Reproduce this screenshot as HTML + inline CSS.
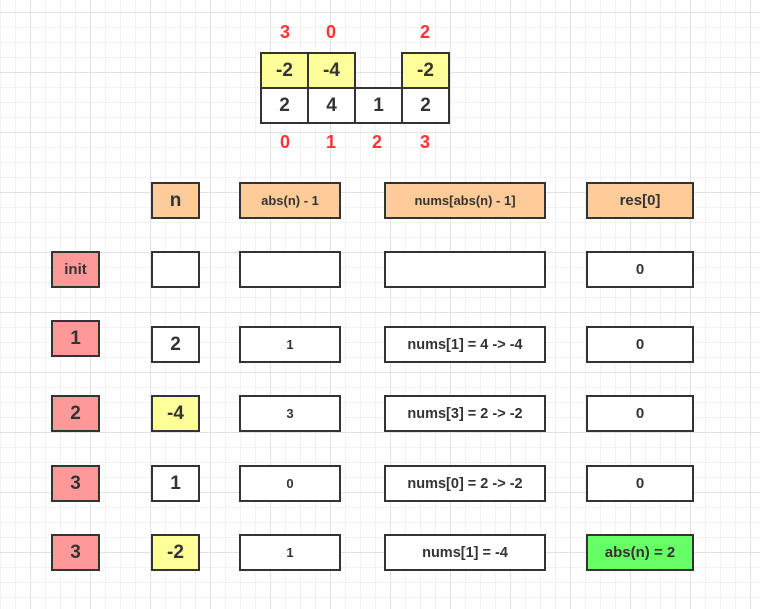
<!DOCTYPE html>
<html><head><meta charset="utf-8"><style>
body{margin:0;width:760px;height:609px;position:relative;overflow:hidden;background:#fff;
background-image:linear-gradient(#e2e2e2 1px,transparent 1px),linear-gradient(90deg,#e2e2e2 1px,transparent 1px),linear-gradient(#f2f2f2 1px,transparent 1px),linear-gradient(90deg,#f2f2f2 1px,transparent 1px);
background-size:60px 60px,60px 60px,15px 15px,15px 15px;background-position:0 12px,30px 0,0 12px,0 0;
font-family:"Liberation Sans",sans-serif;font-weight:bold;color:#333}
.b{position:absolute;box-sizing:border-box;border:2px solid #333;display:flex;align-items:center;justify-content:center;font-size:13px}
.L{font-size:19px}
.N{font-size:14.5px}
.r{position:absolute;color:#f33;font-size:18px;width:30px;text-align:center;transform:translateX(-15px)}
.o{background:#ffcc99}.p{background:#ff9999}.y{background:#ffff99}.g{background:#66ff66}.w{background:#fff}
</style></head><body>
<div class="r" style="left:285px;top:22px">3</div>
<div class="r" style="left:331px;top:22px">0</div>
<div class="r" style="left:425px;top:22px">2</div>
<div class="b y L" style="left:260px;top:52px;width:49px;height:37px">-2</div>
<div class="b y L" style="left:307px;top:52px;width:49px;height:37px">-4</div>
<div class="b y L" style="left:401px;top:52px;width:49px;height:37px">-2</div>
<div class="b w L" style="left:260px;top:87px;width:49px;height:37px">2</div>
<div class="b w L" style="left:307px;top:87px;width:49px;height:37px">4</div>
<div class="b w L" style="left:354px;top:87px;width:49px;height:37px">1</div>
<div class="b w L" style="left:401px;top:87px;width:49px;height:37px">2</div>
<div class="r" style="left:285px;top:132px">0</div>
<div class="r" style="left:331px;top:132px">1</div>
<div class="r" style="left:377px;top:132px">2</div>
<div class="r" style="left:425px;top:132px">3</div>

<div class="b o L" style="left:151px;top:182px;width:49px;height:37px">n</div>
<div class="b o" style="left:239px;top:182px;width:102px;height:37px">abs(n) - 1</div>
<div class="b o" style="left:384px;top:182px;width:162px;height:37px">nums[abs(n) - 1]</div>
<div class="b o" style="left:586px;top:182px;width:108px;height:37px;font-size:15px">res[0]</div>

<div class="b p" style="left:51px;top:251px;width:49px;height:37px;font-size:15px">init</div>
<div class="b w" style="left:151px;top:251px;width:49px;height:37px"></div>
<div class="b w" style="left:239px;top:251px;width:102px;height:37px"></div>
<div class="b w" style="left:384px;top:251px;width:162px;height:37px"></div>
<div class="b w" style="left:586px;top:251px;width:108px;height:37px;font-size:15px">0</div>

<div class="b p L" style="left:51px;top:320px;width:49px;height:37px">1</div>
<div class="b w L" style="left:151px;top:326px;width:49px;height:37px">2</div>
<div class="b w" style="left:239px;top:326px;width:102px;height:37px">1</div>
<div class="b w N" style="left:384px;top:326px;width:162px;height:37px">nums[1] = 4 -&gt; -4</div>
<div class="b w" style="left:586px;top:326px;width:108px;height:37px;font-size:15px">0</div>

<div class="b p L" style="left:51px;top:395px;width:49px;height:37px">2</div>
<div class="b y L" style="left:151px;top:395px;width:49px;height:37px">-4</div>
<div class="b w" style="left:239px;top:395px;width:102px;height:37px">3</div>
<div class="b w N" style="left:384px;top:395px;width:162px;height:37px">nums[3] = 2 -&gt; -2</div>
<div class="b w" style="left:586px;top:395px;width:108px;height:37px;font-size:15px">0</div>

<div class="b p L" style="left:51px;top:465px;width:49px;height:37px">3</div>
<div class="b w L" style="left:151px;top:465px;width:49px;height:37px">1</div>
<div class="b w" style="left:239px;top:465px;width:102px;height:37px">0</div>
<div class="b w N" style="left:384px;top:465px;width:162px;height:37px">nums[0] = 2 -&gt; -2</div>
<div class="b w" style="left:586px;top:465px;width:108px;height:37px;font-size:15px">0</div>

<div class="b p L" style="left:51px;top:534px;width:49px;height:37px">3</div>
<div class="b y L" style="left:151px;top:534px;width:49px;height:37px">-2</div>
<div class="b w" style="left:239px;top:534px;width:102px;height:37px">1</div>
<div class="b w N" style="left:384px;top:534px;width:162px;height:37px">nums[1] = -4</div>
<div class="b g" style="left:586px;top:534px;width:108px;height:37px;font-size:15px">abs(n) = 2</div>
</body></html>
